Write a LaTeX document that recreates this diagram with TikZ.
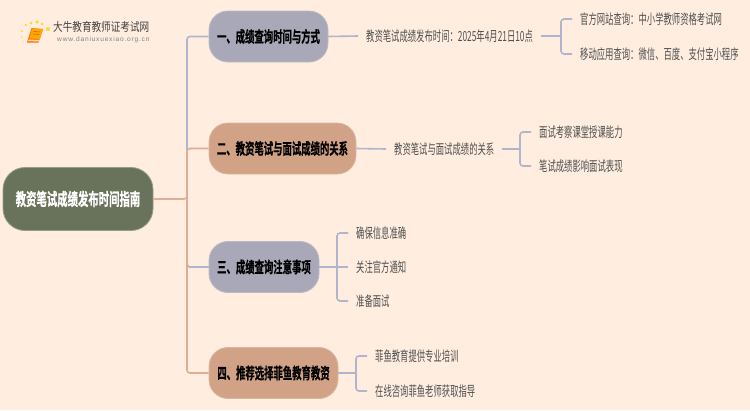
\documentclass[tikz,border=0pt]{standalone}
\usepackage{fontspec}
\setmainfont{Liberation Sans}
\newfontfamily\cjkreg[FakeStretch=0.6]{Noto Sans CJK SC}
\newfontfamily\cjklogo[FakeStretch=0.8]{Noto Sans CJK SC}
\newfontfamily\cjkbold[FakeStretch=0.6,FakeBold=0.6]{Noto Sans CJK SC Bold}
\definecolor{bgc}{HTML}{FFEEE0}
\definecolor{rootc}{HTML}{69725A}
\definecolor{grayc}{HTML}{A8A8B8}
\definecolor{tanc}{HTML}{D2A287}
\definecolor{linegray}{HTML}{B0B4CC}
\definecolor{linetan}{HTML}{DDAE95}
\definecolor{txtc}{HTML}{505050}
\tikzset{
  x=1pt,y=-1pt,
  rootbox/.style={rectangle,rounded corners=22pt,fill=rootc,draw=rootc!70!white,line width=.8pt,text=white,font=\cjkbold\fontsize{17.3}{19}\selectfont,minimum width=150pt,minimum height=63pt,inner sep=0pt},
  branchbox/.style={rectangle,rounded corners=19pt,draw=#1!80!white,line width=.8pt,fill=#1,text=black,font=\cjkbold\fontsize{15.6}{18}\selectfont,minimum height=51pt,inner sep=0pt},
  leaf/.style={anchor=west,inner xsep=8pt,inner ysep=2pt,text=txtc,font=\cjkreg\fontsize{13.9}{16}\selectfont},
  conn/.style={line width=1.6pt,rounded corners=3pt,#1},
  conn/.default={linegray},
}
\begin{document}
\begin{tikzpicture}
\useasboundingbox (0,0) rectangle (750,410);
\fill[bgc] (0,0) rectangle (750,410);

% logo
\foreach \px/\py/\r in {23/42/.6,22/37/.9,22/31/1.1,26/25/1.4,31/23/1.7,37/22/1.8,42/24/1.7,48/29/2.2}{
  \fill[yellow!70!orange,opacity=.7] (\px,\py) circle[radius=\r];
}
\fill[orange!90!red] (27,42.5) -- (38.5,42.5) -- (43,29) -- (31.5,28) -- cycle;
\fill[orange!70!yellow] (29.5,38.5) -- (40,39) -- (43,29) -- (32,28.5) -- cycle;
\fill[white!75!orange] (28.5,39.5) -- (39,40) -- (38.5,41.5) -- (28,41) -- cycle;
\draw[orange!75!black,line width=.5pt] (33.5,31.5) -- (40,32) (32.8,34) -- (39.3,34.5);
\node[inner sep=0pt,anchor=west,text=black!75,font=\cjklogo\fontsize{12}{14}\selectfont] (logot) at (53,27) {大牛教育教师证考试网};
\node[inner sep=0pt,anchor=west,text=black!50,font=\fontsize{6.6}{8}\selectfont,align=left] (logou) at (57,39.5) {\addfontfeature{LetterSpace=12}www.daniuxuexiao.org.cn};

% root and branches
\node[rootbox] (root) at (78,199) {教资笔试成绩发布时间指南};
\node[branchbox=grayc,minimum width=119pt] (b1) at (268.5,36.5) {一、成绩查询时间与方式};
\node[branchbox=tanc,minimum width=147pt] (b2) at (282.5,148.5) {二、教资笔试与面试成绩的关系};
\node[branchbox=grayc,minimum width=110pt] (b3) at (264,267) {三、成绩查询注意事项};
\node[branchbox=tanc,minimum width=129pt] (b4) at (273.5,373) {四、推荐选择菲鱼教育教资};

\coordinate (trunk) at (187,199);
\draw[conn=linegray] (trunk) |- (b1.west);
\draw[conn=linetan] (root.east) -- (trunk) |- (b2.west);
\draw[conn=linetan] (trunk) |- (b3.west);
\draw[conn=linegray] (187,262) |- (b3.west);
\draw[conn=linetan] (trunk) |- (b4.west);

% branch 1
\node[leaf] (l1) at (358,36) {教资笔试成绩发布时间：2025年4月21日10点};
\node[leaf] (l1a) at (572,19) {官方网站查询：中小学教师资格考试网};
\node[leaf] (l1b) at (572,54) {移动应用查询：微信、百度、支付宝小程序};
\coordinate (j1) at (561,36);
\draw[conn] (b1.east) -- (l1.west);
\draw[conn] (l1.east) -- (j1);
\draw[conn] (j1) |- (l1a.west);
\draw[conn] (j1) |- (l1b.west);

% branch 2
\node[leaf] (l2) at (386,149) {教资笔试与面试成绩的关系};
\node[leaf] (l2a) at (531,132) {面试考察课堂授课能力};
\node[leaf] (l2b) at (531,166) {笔试成绩影响面试表现};
\coordinate (j2) at (520,149);
\draw[conn] (b2.east) -- (l2.west);
\draw[conn] (l2.east) -- (j2);
\draw[conn] (j2) |- (l2a.west);
\draw[conn] (j2) |- (l2b.west);

% branch 3
\node[leaf] (l3a) at (348,233) {确保信息准确};
\node[leaf] (l3b) at (348,267) {关注官方通知};
\node[leaf] (l3c) at (348,301) {准备面试};
\coordinate (j3) at (337,267);
\draw[conn] (b3.east) -- (l3b.west);
\draw[conn] (j3) |- (l3a.west);
\draw[conn] (j3) |- (l3c.west);

% branch 4
\node[leaf] (l4a) at (367,356) {菲鱼教育提供专业培训};
\node[leaf] (l4b) at (367,391) {在线咨询菲鱼老师获取指导};
\coordinate (j4) at (356,373);
\draw[conn] (b4.east) -- (j4);
\draw[conn] (j4) |- (l4a.west);
\draw[conn] (j4) |- (l4b.west);
\end{tikzpicture}
\end{document}
